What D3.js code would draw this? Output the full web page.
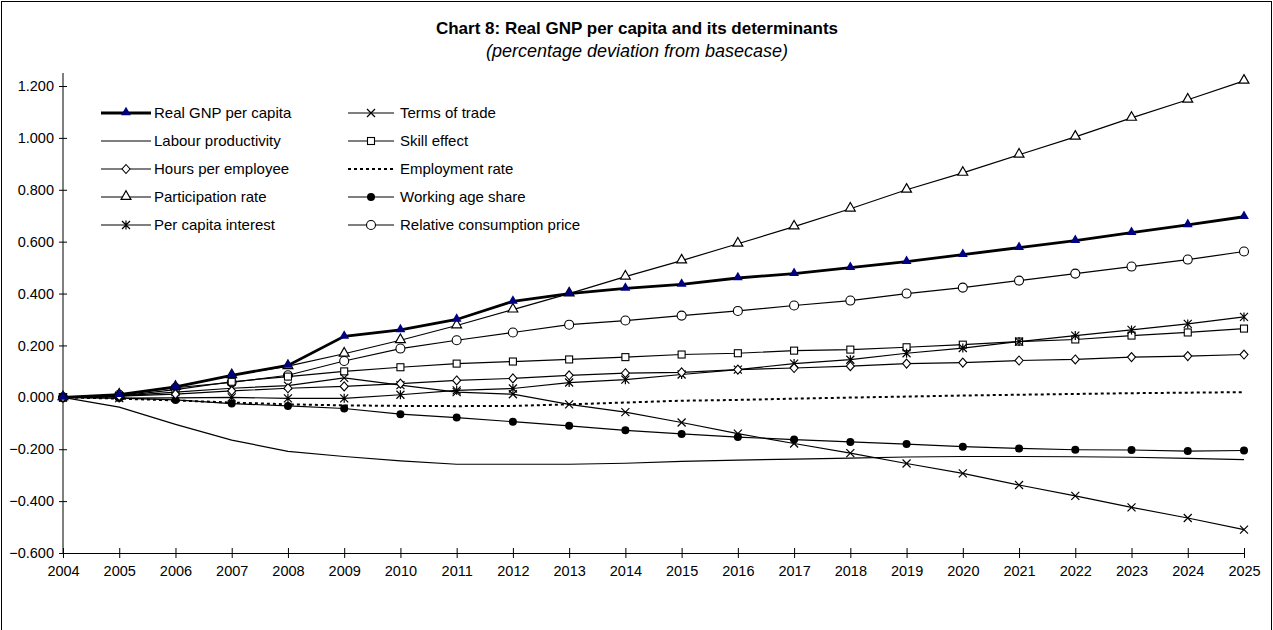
<!DOCTYPE html>
<html>
<head>
<meta charset="utf-8">
<script src="https://cdn.jsdelivr.net/npm/d3@7"></script>
<style>
  body { margin: 0; background: #fff; }
  text { font-family: Arial, "Liberation Sans", sans-serif; }
</style>
</head>
<body>
<svg></svg>
<script>
const size = {w: 1273, h: 630};
const svg = d3.select('svg');

svg.attr('width', size.w)
    .attr('height', size.h);

const years = d3.range(2004, 2026);
const yTicks = [-0.6, -0.4, -0.2, 0, 0.2, 0.4, 0.6, 0.8, 1.0, 1.2];

const realGnp = [0, 0.01, 0.04, 0.085, 0.123, 0.235, 0.26, 0.30, 0.37, 0.40, 0.42, 0.435, 0.46, 0.477, 0.50, 0.523, 0.55, 0.577, 0.604, 0.635, 0.665, 0.696];
const labourProd = [0, -0.038, -0.104, -0.165, -0.208, -0.228, -0.245, -0.258, -0.258, -0.258, -0.254, -0.247, -0.242, -0.238, -0.234, -0.23, -0.228, -0.228, -0.229, -0.231, -0.235, -0.24];
const hoursPerEmp = [0, 0.005, 0.012, 0.025, 0.035, 0.042, 0.053, 0.065, 0.073, 0.085, 0.093, 0.096, 0.107, 0.113, 0.12, 0.13, 0.134, 0.142, 0.146, 0.155, 0.159, 0.165];
const participation = [0, 0.01, 0.04, 0.085, 0.12, 0.168, 0.22, 0.277, 0.338, 0.40, 0.465, 0.527, 0.592, 0.658, 0.727, 0.80, 0.865, 0.935, 1.004, 1.077, 1.147, 1.22];
const perCapInterest = [0, -0.003, -0.002, 0, -0.004, -0.004, 0.01, 0.027, 0.034, 0.057, 0.068, 0.088, 0.107, 0.13, 0.145, 0.17, 0.19, 0.215, 0.238, 0.26, 0.283, 0.31];
const termsOfTrade = [0, 0.005, 0.02, 0.035, 0.045, 0.075, 0.047, 0.02, 0.012, -0.027, -0.057, -0.097, -0.14, -0.178, -0.215, -0.255, -0.293, -0.338, -0.38, -0.424, -0.465, -0.51];
const skillEffect = [0, 0.005, 0.03, 0.06, 0.08, 0.10, 0.116, 0.13, 0.138, 0.146, 0.155, 0.165, 0.17, 0.18, 0.184, 0.193, 0.203, 0.215, 0.223, 0.238, 0.25, 0.265];
const employment = [0, -0.005, -0.012, -0.02, -0.027, -0.031, -0.033, -0.034, -0.033, -0.027, -0.02, -0.013, -0.01, -0.005, -0.001, 0.003, 0.007, 0.01, 0.013, 0.016, 0.018, 0.02];
const workingAge = [0, -0.003, -0.01, -0.024, -0.033, -0.043, -0.065, -0.078, -0.094, -0.11, -0.127, -0.141, -0.153, -0.163, -0.172, -0.18, -0.19, -0.197, -0.202, -0.203, -0.207, -0.205];
const relConsPrice = [0, 0.01, 0.037, 0.058, 0.085, 0.14, 0.188, 0.22, 0.25, 0.28, 0.296, 0.315, 0.333, 0.354, 0.373, 0.40, 0.423, 0.45, 0.477, 0.504, 0.531, 0.562];

// legend order: left column first, then right column
const series = [
    {name: 'Real GNP per capita', values: realGnp, marker: 'triFilled', width: 2.8},
    {name: 'Labour productivity', values: labourProd, marker: null},
    {name: 'Hours per employee', values: hoursPerEmp, marker: 'diamond'},
    {name: 'Participation rate', values: participation, marker: 'triangle'},
    {name: 'Per capita interest', values: perCapInterest, marker: 'star'},
    {name: 'Terms of trade', values: termsOfTrade, marker: 'cross'},
    {name: 'Skill effect', values: skillEffect, marker: 'square'},
    {name: 'Employment rate', values: employment, marker: null, dotted: true},
    {name: 'Working age share', values: workingAge, marker: 'dot'},
    {name: 'Relative consumption price', values: relConsPrice, marker: 'circle'}
];

const x = d3.scaleLinear().domain([2004, 2025]).range([63, 1244]);
const y = d3.scaleLinear().domain([-0.6, 1.2]).range([553, 86]);

// outer frame
svg.append('rect')
    .attr('x', 1.5).attr('y', 1.5)
    .attr('width', size.w - 3).attr('height', size.h + 10)
    .attr('fill', 'none').attr('stroke', '#000').attr('stroke-width', 1);

svg.append('text')
    .attr('x', 637).attr('y', 34)
    .attr('text-anchor', 'middle')
    .style('font-size', '17px').style('font-weight', 'bold')
    .text('Chart 8: Real GNP per capita and its determinants');

svg.append('text')
    .attr('x', 637).attr('y', 57)
    .attr('text-anchor', 'middle')
    .style('font-size', '18px').style('font-style', 'italic')
    .text('(percentage deviation from basecase)');

// axes
let yAxis = svg.append('g')
    .attr('transform', 'translate(' + x(2004) + ',0)')
    .call(d3.axisLeft(y).tickValues(yTicks).tickFormat(d3.format('.3f')).tickSize(4).tickSizeOuter(0));
yAxis.select('.domain').remove();
yAxis.selectAll('.tick line').attr('x1', 4).attr('x2', -4);
yAxis.selectAll('.tick text').attr('x', -9).style('font-size', '14.5px').style('font-family', 'Arial, "Liberation Sans", sans-serif');
yAxis.append('line')
    .attr('y1', y(-0.6)).attr('y2', 73)
    .attr('stroke', '#000');

let xAxis = svg.append('g')
    .attr('transform', 'translate(0,' + y(-0.6) + ')')
    .call(d3.axisBottom(x).tickValues(years).tickFormat(d3.format('d')).tickSize(5).tickSizeOuter(0));
xAxis.selectAll('.tick line').attr('y1', -5).attr('y2', 5);
xAxis.selectAll('.tick text').attr('y', 13).style('font-size', '14.5px').style('font-family', 'Arial, "Liberation Sans", sans-serif');

// markers
function drawMarker (g, type, cx, cy) {
    if (type === 'triFilled' || type === 'triangle') {
        g.append('path')
            .attr('d', d3.symbol(d3.symbolTriangle, 42)())
            .attr('transform', 'translate(' + cx + ',' + (cy - 0.5) + ')')
            .attr('fill', type === 'triFilled' ? '#000080' : '#fff')
            .attr('stroke', type === 'triFilled' ? 'none' : '#000')
            .attr('stroke-width', 1.2);
    } else if (type === 'diamond') {
        g.append('path')
            .attr('d', 'M0,-4.5L4,0L0,4.5L-4,0Z')
            .attr('transform', 'translate(' + cx + ',' + cy + ')')
            .attr('fill', '#fff').attr('stroke', '#000').attr('stroke-width', 1.1);
    } else if (type === 'square') {
        g.append('rect')
            .attr('x', cx - 3.5).attr('y', cy - 3.5)
            .attr('width', 7).attr('height', 7)
            .attr('fill', '#fff').attr('stroke', '#000').attr('stroke-width', 1.1);
    } else if (type === 'circle') {
        g.append('circle')
            .attr('cx', cx).attr('cy', cy).attr('r', 4.5)
            .attr('fill', '#fff').attr('stroke', '#000').attr('stroke-width', 1.1);
    } else if (type === 'dot') {
        g.append('circle')
            .attr('cx', cx).attr('cy', cy).attr('r', 4)
            .attr('fill', '#000');
    } else if (type === 'cross' || type === 'star') {
        let d = 'M-4,-4L4,4M-4,4L4,-4';
        if (type === 'star') d += 'M0,-4.5L0,4.5';
        g.append('path')
            .attr('d', d)
            .attr('transform', 'translate(' + cx + ',' + cy + ')')
            .attr('fill', 'none').attr('stroke', '#000').attr('stroke-width', 1.2);
    }
}

const line = d3.line()
    .x((d, i) => x(years[i]))
    .y((d) => y(d));

let plot = svg.append('g').classed('plot', true);

// draw in reverse so the GNP line sits on top
series.slice().reverse().forEach(function (s) {
    let g = plot.append('g');
    g.append('path')
        .datum(s.values)
        .attr('d', line)
        .attr('fill', 'none')
        .attr('stroke', '#000')
        .attr('stroke-width', s.dotted ? 2 : (s.width || 1.2))
        .attr('stroke-dasharray', s.dotted ? '3,3' : null);
    if (s.marker) {
        s.values.forEach(function (v, i) {
            drawMarker(g, s.marker, x(years[i]), y(v));
        });
    }
});

// legend
let legend = svg.append('g').classed('legend', true);
series.forEach(function (s, i) {
    let col = Math.floor(i / 5),
        row = i % 5;
    let x0 = col === 0 ? 101 : 348,
        x1 = col === 0 ? 151 : 394,
        ly = 113 + row * 28;
    let g = legend.append('g');
    g.append('line')
        .attr('x1', x0).attr('x2', x1)
        .attr('y1', ly).attr('y2', ly)
        .attr('stroke', '#000')
        .attr('stroke-width', s.dotted ? 2 : (s.width || 1.2))
        .attr('stroke-dasharray', s.dotted ? '3,3' : null);
    if (s.marker) drawMarker(g, s.marker, (x0 + x1) / 2, ly);
    g.append('text')
        .attr('x', col === 0 ? 154 : 400)
        .attr('y', ly)
        .attr('dy', '0.35em')
        .style('font-size', '15px')
        .text(s.name);
});
</script>
</body>
</html>
